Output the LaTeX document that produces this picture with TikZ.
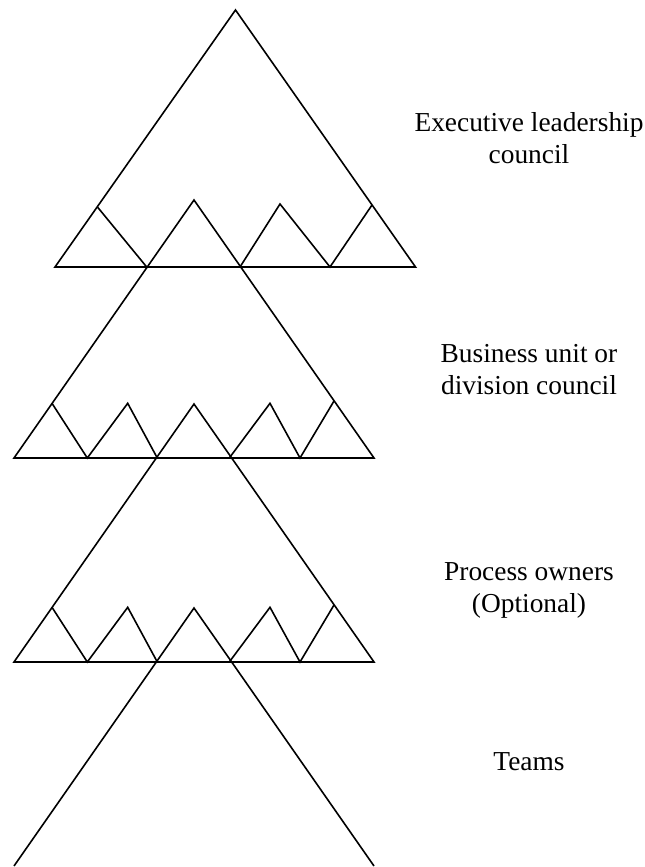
\documentclass[tikz,border=0pt]{standalone}
\usepackage{fontspec}
\setmainfont{Liberation Serif}

\begin{document}
\begin{tikzpicture}[
    x=0.5pt, y=-0.5pt,
    edge/.style={line width=0.8pt, line join=miter},
    tier/.style={anchor=base, align=center, inner sep=0pt,
        font=\fontsize{13.7}{16}\selectfont}
    ]
\useasboundingbox (0,0) rectangle (644,867);

% Executive level
\draw[edge] (55,267) -- (235.5,10) -- (415.5,267) -- cycle;
\draw[edge] (97.7,207.3) -- (146.7,267);
\draw[edge] (240,267) -- (280,204) -- (330,267) -- (372,205);

% Business unit level (apex is the middle small triangle above)
\draw[edge] (14,458) -- (194,200) -- (374,458) -- cycle;
\draw[edge] (52,403.3) -- (87.3,458) -- (127.7,403.3) -- (157.3,458);
\draw[edge] (229.3,458) -- (270,403.3) -- (300,458) -- (334,401);

% Process owners level
\draw[edge] (14,662) -- (194,404) -- (374,662) -- cycle;
\draw[edge] (52,607.3) -- (87.3,662) -- (127.7,607.3) -- (157.3,662);
\draw[edge] (229.3,662) -- (270,607.3) -- (300,662) -- (334,605);

% Teams, open at the bottom
\draw[edge] (14,866) -- (194,608) -- (374,866);

% Labels (base = last line)
\node[tier] (exec) at (529,163) {Executive leadership\\council};
\node[tier] (unit) at (529,394) {Business unit or\\division council};
\node[tier] (owners) at (529,612) {Process owners\\(Optional)};
\node[tier] (teams) at (529,770) {Teams};

\end{tikzpicture}
\end{document}
